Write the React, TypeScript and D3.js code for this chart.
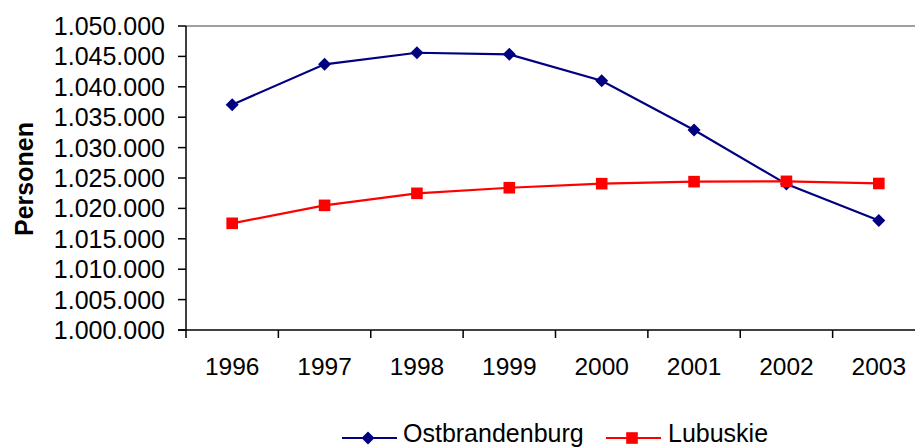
import React from "react";
import * as d3 from "d3";

const years = ["1996", "1997", "1998", "1999", "2000", "2001", "2002", "2003"];
const ostbrandenburg = [1037060, 1043700, 1045600, 1045340, 1041000, 1032900, 1024000, 1018000];
const lubuskie = [1017550, 1020500, 1022480, 1023400, 1024070, 1024400, 1024450, 1024100];
const yTicks = [1000000, 1005000, 1010000, 1015000, 1020000, 1025000, 1030000, 1035000, 1040000, 1045000, 1050000];

const W = 915;
const H = 448;
const left = 186;
const top = 26;
const bottom = 330;
const right = 925;
const font = "Arial, 'Liberation Sans', sans-serif";

const fmt = (v: number) => {
  const s = String(v);
  return s.replace(/\B(?=(\d{3})+(?!\d))/g, ".");
};

export default function App() {
  const x = d3.scaleBand<string>().domain(years).range([left, right]);
  const y = d3.scaleLinear().domain([1000000, 1050000]).range([bottom, top]);
  const cx = (yr: string) => (x(yr) as number) + x.bandwidth() / 2;
  const line = d3
    .line<number>()
    .x((_, i) => cx(years[i]))
    .y((d) => y(d));

  return (
    <svg width={W} height={H} style={{ position: "absolute", left: 0, top: 0, background: "#fff" }}>
      {/* plot border top */}
      <line x1={left} x2={right} y1={top} y2={top} stroke="#808080" strokeWidth={1.5} />
      {/* axes */}
      <line x1={left} x2={left} y1={top} y2={bottom} stroke="#000" strokeWidth={1.5} />
      <line x1={left - 8} x2={right} y1={bottom} y2={bottom} stroke="#000" strokeWidth={1.5} />
      {yTicks.map((t) => (
        <g key={t}>
          <line x1={left - 8} x2={left} y1={y(t)} y2={y(t)} stroke="#000" strokeWidth={1.5} />
          <text x={165} y={y(t) + 9} textAnchor="end" fontFamily={font} fontSize={25} fill="#000">
            {fmt(t)}
          </text>
        </g>
      ))}
      {years.map((yr) => (
        <g key={yr}>
          <line
            x1={x(yr) as number}
            x2={x(yr) as number}
            y1={bottom}
            y2={bottom + 8}
            stroke="#000"
            strokeWidth={1.5}
          />
          <text x={cx(yr)} y={375} textAnchor="middle" fontFamily={font} fontSize={24.5} fill="#000">
            {yr}
          </text>
        </g>
      ))}
      <text
        transform={`translate(33,179) rotate(-90)`}
        textAnchor="middle"
        fontFamily={font}
        fontSize={25}
        fontWeight="bold"
        fill="#000"
      >
        Personen
      </text>
      {/* series */}
      <path d={line(ostbrandenburg) || ""} fill="none" stroke="#000080" strokeWidth={2.2} />
      <path d={line(lubuskie) || ""} fill="none" stroke="#FF0000" strokeWidth={2.2} />
      {ostbrandenburg.map((v, i) => (
        <path
          key={"o" + i}
          d={`M${cx(years[i])},${y(v) - 6.5}l6.5,6.5l-6.5,6.5l-6.5,-6.5z`}
          fill="#000080"
        />
      ))}
      {lubuskie.map((v, i) => (
        <rect key={"l" + i} x={cx(years[i]) - 5.8} y={y(v) - 5.8} width={11.6} height={11.6} fill="#FF0000" />
      ))}
      {/* legend */}
      <line x1={342} x2={397} y1={438} y2={438} stroke="#000080" strokeWidth={2} />
      <path d={`M368,431.5l6.5,6.5l-6.5,6.5l-6.5,-6.5z`} fill="#000080" />
      <text x={403} y={442} fontFamily={font} fontSize={25} fill="#000">
        Ostbrandenburg
      </text>
      <line x1={606} x2={661} y1={438} y2={438} stroke="#FF0000" strokeWidth={2} />
      <rect x={632 - 5.8} y={438 - 5.8} width={11.6} height={11.6} fill="#FF0000" />
      <text x={668} y={442} fontFamily={font} fontSize={25} fill="#000">
        Lubuskie
      </text>
    </svg>
  );
}
